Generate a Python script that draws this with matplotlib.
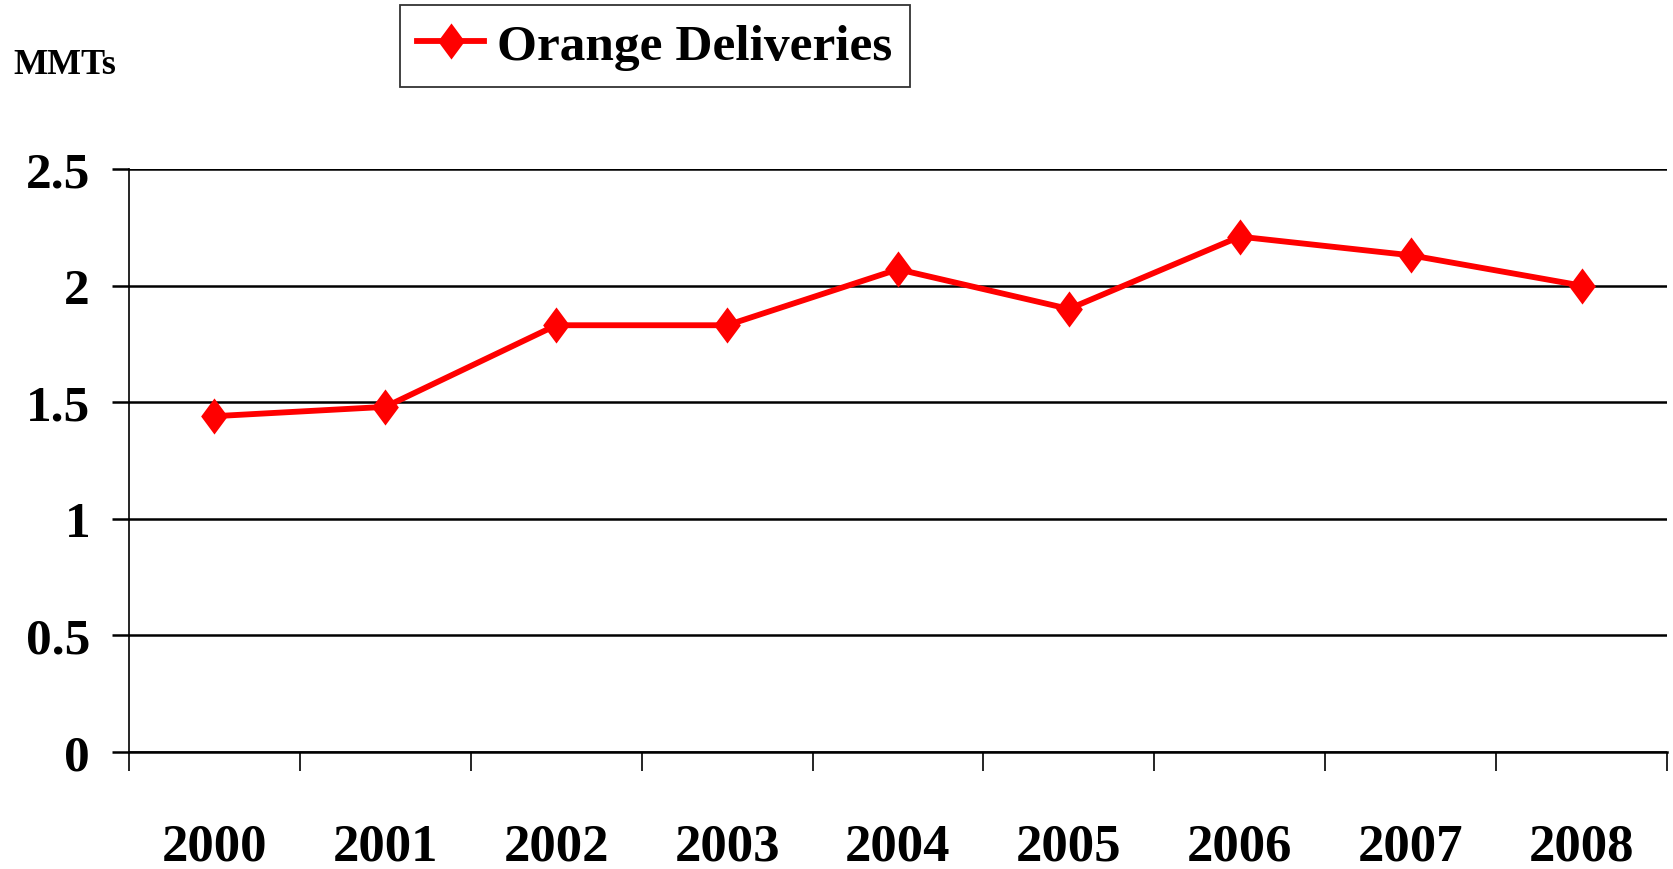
import matplotlib
matplotlib.use("Agg")
import matplotlib.pyplot as plt
from matplotlib.path import Path
import numpy as np

years = ["2000", "2001", "2002", "2003", "2004", "2005", "2006", "2007", "2008"]
deliveries = [1.44, 1.48, 1.83, 1.83, 2.07, 1.90, 2.21, 2.13, 2.00]
y_ticks = [0, 0.5, 1, 1.5, 2, 2.5]
y_tick_labels = ["0", "0.5", "1", "1.5", "2", "2.5"]
series_name = "Orange Deliveries"
unit_label = "MMTs"

plt.rcParams['font.family'] = ['Liberation Serif', 'DejaVu Serif']
plt.rcParams['font.weight'] = 'bold'

fig = plt.figure(figsize=(16.73, 8.70), dpi=100)
ax = fig.add_axes([0.0771, 0.1345, 0.9193, 0.6701])

diamond = Path([(0, 1), (0.74, 0), (0, -1), (-0.74, 0), (0, 1)],
               [Path.MOVETO, Path.LINETO, Path.LINETO, Path.LINETO, Path.CLOSEPOLY])

x = np.arange(len(years))
ax.plot(x, deliveries, color='#ff0000', lw=4.2, marker=diamond, markersize=26,
        markeredgewidth=0, label=series_name, zorder=3)

ax.set_ylim(0, 2.5)
ax.set_xlim(-0.5, len(years) - 0.5)
ax.set_yticks(y_ticks)
ax.set_yticklabels(y_tick_labels)
ax.yaxis.grid(True, color='black', lw=1.8)
ax.set_axisbelow(True)

ax.set_xticks(np.arange(len(years) + 1) - 0.5)
ax.set_xticklabels([])
ax.set_xticks(x, minor=True)
ax.set_xticklabels(years, minor=True)
ax.tick_params(axis='x', which='major', length=14, width=1.2, direction='out', color='black')
ax.tick_params(axis='x', which='minor', length=0, pad=51, labelsize=38)
ax.tick_params(axis='y', length=12, width=1.8, direction='out', pad=16, labelsize=37)

for s in ['top', 'right']:
    ax.spines[s].set_visible(False)
ax.spines['left'].set_linewidth(1.2)
ax.spines['bottom'].set_linewidth(1.8)

for lbl in ax.get_xticklabels(minor=True) + ax.get_yticklabels():
    lbl.set_fontweight('bold')

fig.text(0.0077, 0.925, unit_label, fontsize=26, fontweight='bold', va='center', ha='left')

leg = fig.legend(loc='upper left', bbox_to_anchor=(0.239, 0.993), frameon=True,
                 fancybox=False, prop={'size': 37, 'weight': 'bold'},
                 handlelength=1.3, handletextpad=0.25, borderpad=0.34, borderaxespad=0)
leg.get_frame().set_edgecolor('black')
leg.get_frame().set_linewidth(1.3)

fig.savefig("out.png", dpi=100)
